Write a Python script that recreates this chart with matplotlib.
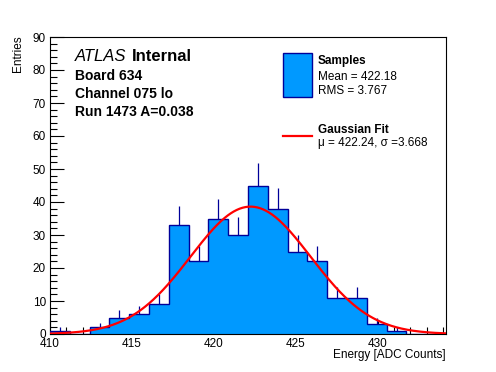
import numpy as np
import matplotlib
matplotlib.use("Agg")
import matplotlib.pyplot as plt
from matplotlib.ticker import MultipleLocator

plt.rcParams['font.family'] = ['Liberation Sans', 'DejaVu Sans']

# histogram: 20 bins between 410 and 434.17
x_min = 410.0
x_max = 434.17
n_bins = 20
counts = [1, 0, 2, 5, 6, 9, 33, 22, 35, 30, 45, 38, 25, 22, 11, 11, 3, 1, 0, 0]

# fit / stats from the legend
fit_amp = 38.6
fit_mu = 422.24
fit_sigma = 3.668
mean_txt = "Mean = 422.18"
rms_txt = "RMS = 3.767"

W, H = 496, 372
fill_col = '#0099ff'
edge_col = '#000099'

fig = plt.figure(figsize=(W / 100, H / 100), dpi=100)
ax = fig.add_axes([50 / W, 38 / H, 396 / W, 297 / H])

edges = np.linspace(x_min, x_max, n_bins + 1)
counts = np.array(counts, dtype=float)
centers = 0.5 * (edges[:-1] + edges[1:])

ax.stairs(counts, edges, fill=True, color=fill_col, zorder=2)
ax.stairs(counts, edges, color=edge_col, lw=1.0, zorder=3)
err = np.sqrt(counts)
nz = counts > 0
ax.vlines(centers[nz], counts[nz], (counts + err)[nz],
          color=edge_col, lw=0.9, zorder=3)

xf = np.linspace(x_min, x_max, 400)
yf = fit_amp * np.exp(-0.5 * ((xf - fit_mu) / fit_sigma) ** 2)
ax.plot(xf, yf, color='red', lw=1.6, zorder=4)

ax.set_xlim(x_min, x_max)
ax.set_ylim(0, 90)
ax.xaxis.set_major_locator(MultipleLocator(5))
ax.xaxis.set_minor_locator(MultipleLocator(1))
ax.yaxis.set_major_locator(MultipleLocator(10))
ax.yaxis.set_minor_locator(MultipleLocator(2))
ax.tick_params(which='both', direction='in', top=False, right=False,
               labelsize=8.5, width=0.8)
ax.tick_params(which='major', length=10, pad=3)
ax.tick_params(which='minor', length=5)
for s in ax.spines.values():
    s.set_linewidth(0.8)

fig.text(446 / W, 1 - 358 / H, "Energy [ADC Counts]", ha='right',
         va='baseline', fontsize=8.5)
fig.text(18 / W, 1 - 35 / H, "Entries", ha='center', va='top',
         rotation=90, fontsize=8.5)

# ATLAS label
t1 = fig.text(75 / W, 1 - 61 / H, "ATLAS", style='italic', fontsize=12,
              va='baseline')
fig.canvas.draw()
bb = t1.get_window_extent()
fig.text((bb.x1 + 5) / W, 1 - 61 / H, "Internal", weight='bold',
         fontsize=12, va='baseline')
info_lines = ["Board 634", "Channel 075 lo", "Run 1473 A=0.038"]
for txt, yb in zip(info_lines, [80, 98, 116]):
    fig.text(75 / W, 1 - yb / H, txt, weight='bold', fontsize=10,
             va='baseline')

# legend drawn by hand
box = plt.Rectangle((283 / W, 1 - 97 / H), 29 / W, 44 / H,
                    transform=fig.transFigure, facecolor=fill_col,
                    edgecolor=edge_col, lw=1)
fig.add_artist(box)
fig.text(318 / W, 1 - 64 / H, "Samples", weight='bold', fontsize=8.5,
         va='baseline')
fig.text(318 / W, 1 - 80 / H, mean_txt, fontsize=8.5, va='baseline')
fig.text(318 / W, 1 - 94 / H, rms_txt, fontsize=8.5, va='baseline')
fig.add_artist(plt.Line2D([283 / W, 312 / W], [1 - 136 / H, 1 - 136 / H],
                          transform=fig.transFigure, color='red', lw=1.6))
fig.text(318 / W, 1 - 133 / H, "Gaussian Fit", weight='bold', fontsize=8.5,
         va='baseline')
fig.text(318 / W, 1 - 146 / H,
         "\u03bc = %.2f, \u03c3 =%.3f" % (fit_mu, fit_sigma),
         fontsize=8.5, va='baseline')

fig.savefig("out.png", dpi=100)
